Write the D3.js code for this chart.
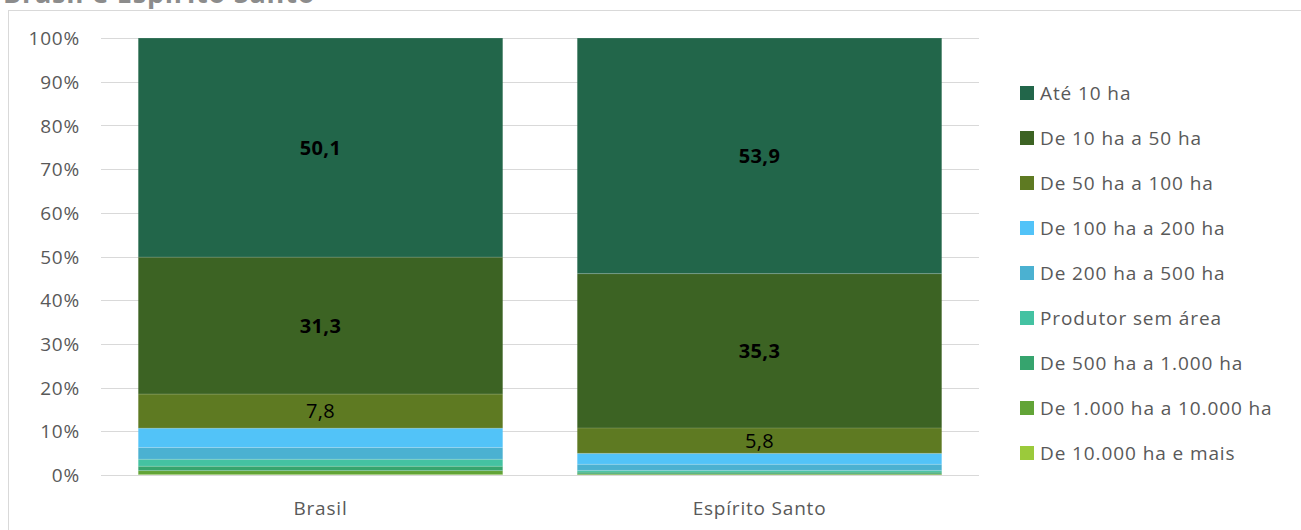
<!DOCTYPE html>
<html><head><meta charset="utf-8">
<script src="https://cdn.jsdelivr.net/npm/d3@7/dist/d3.min.js"></script>
<style>
html,body{margin:0;padding:0;background:#fff;}
svg{display:block;font-family:"Open Sans","Noto Sans",sans-serif;}
</style></head>
<body>
<svg id="chart" width="1301" height="530"></svg>
<script>
const title = "Brasil e Espírito Santo";
const categories = ["Brasil", "Espírito Santo"];
const seriesNames = ["Até 10 ha","De 10 ha a 50 ha","De 50 ha a 100 ha","De 100 ha a 200 ha","De 200 ha a 500 ha","Produtor sem área","De 500 ha a 1.000 ha","De 1.000 ha a 10.000 ha","De 10.000 ha e mais"];
const brasilValues = [50.1, 31.3, 7.8, 4.4, 2.7, 1.6, 1.0, 0.9, 0.1];
const esValues     = [53.9, 35.3, 5.8, 2.5, 1.4, 0.4, 0.4, 0.2, 0.05];
const colors = ["#22664a","#3c6323","#5e7a22","#52c3f8","#4bb1d1","#44c2a2","#36a46e","#62a437","#9bca3b"];
const labelStyle = ["bold","bold","normal",null,null,null,null,null,null];
const yTicks = [0,0.1,0.2,0.3,0.4,0.5,0.6,0.7,0.8,0.9,1];

const svg = d3.select("#chart");
// outer frame
svg.append("rect").attr("x",8.5).attr("y",10.5).attr("width",1400).attr("height",600)
  .attr("fill","none").attr("stroke","#d9d9d9").attr("stroke-width",1);
svg.append("text").attr("x",3).attr("y",3).attr("font-size",27).attr("font-weight","bold")
  .attr("letter-spacing",0.8).attr("fill","#8c8c8c").text(title);

const table = categories.map((c,i)=>{
  const row = {cat:c};
  const vals = i===0?brasilValues:esValues;
  seriesNames.forEach((s,j)=>row[s]=vals[j]);
  return row;
});
// stack from bottom: last series at bottom
const order = seriesNames.slice().reverse();
const stack = d3.stack().keys(order).offset(d3.stackOffsetExpand);
const stacked = stack(table);

const x = d3.scaleBand().domain(categories).range([101,979]).paddingInner(0.17).paddingOuter(0.085);
const y = d3.scaleLinear().domain([0,1]).range([475,38]);

// gridlines
svg.append("g").selectAll("line").data(yTicks).join("line")
  .attr("x1",101).attr("x2",979).attr("y1",d=>Math.round(y(d))+0.5).attr("y2",d=>Math.round(y(d))+0.5)
  .attr("stroke","#d9d9d9").attr("stroke-width",1);

// y axis labels via axis
const yAxis = d3.axisLeft(y).tickValues(yTicks).tickFormat(d3.format(".0%")).tickSize(0).tickPadding(0);
const ya = svg.append("g").attr("transform","translate(80,0)").call(yAxis);
ya.select(".domain").remove();
ya.selectAll("text").attr("font-size",19).attr("letter-spacing",0.8).attr("fill","#595959")
  .attr("font-family","'Open Sans',sans-serif").attr("dy","0.35em");

// bars
const colorOf = d3.scaleOrdinal().domain(seriesNames).range(colors);
const g = svg.append("g");
stacked.forEach(layer=>{
  g.selectAll(null).data(layer).join("rect")
    .attr("x",d=>x(d.data.cat)).attr("width",x.bandwidth())
    .attr("y",d=>y(d[1])).attr("height",d=>Math.max(0,y(d[0])-y(d[1])))
    .attr("fill",colorOf(layer.key));
});
// segment separators (subtle)
stacked.forEach(layer=>{
  g.selectAll(null).data(layer).join("line")
    .attr("x1",d=>x(d.data.cat)).attr("x2",d=>x(d.data.cat)+x.bandwidth())
    .attr("y1",d=>y(d[1])).attr("y2",d=>y(d[1]))
    .attr("stroke","#ffffff").attr("stroke-opacity",0.18).attr("stroke-width",1);
});

// x axis line
svg.append("line").attr("x1",101).attr("x2",979).attr("y1",475.5).attr("y2",475.5).attr("stroke","#d9d9d9");

// data labels
stacked.forEach(layer=>{
  const idx = seriesNames.indexOf(layer.key);
  if(!labelStyle[idx]) return;
  g.selectAll(null).data(layer).join("text")
    .attr("x",d=>x(d.data.cat)+x.bandwidth()/2)
    .attr("y",d=>(y(d[0])+y(d[1]))/2)
    .attr("dy","0.36em").attr("text-anchor","middle")
    .attr("font-size",20).attr("letter-spacing",0.4).attr("font-weight",labelStyle[idx]).attr("fill","#000")
    .text(d=>String(d.data[layer.key]).replace(".",","));
});

// x labels
const xAxis = d3.axisBottom(x).tickSize(0).tickPadding(0);
const xa = svg.append("g").attr("transform","translate(0,508)").call(xAxis);
xa.select(".domain").remove();
xa.selectAll("text").attr("font-size",19).attr("letter-spacing",0.8).attr("fill","#595959")
  .attr("font-family","'Open Sans',sans-serif").attr("dy","0.35em");

// legend
const leg = svg.append("g");
seriesNames.forEach((s,i)=>{
  const cy = 93 + i*45;
  leg.append("rect").attr("x",1020).attr("y",cy-7).attr("width",14).attr("height",14).attr("fill",colors[i]);
  leg.append("text").attr("x",1040).attr("y",cy).attr("dy","0.35em").attr("font-size",19)
    .attr("letter-spacing",0.9).attr("fill","#595959").text(s);
});
</script>
</body></html>
